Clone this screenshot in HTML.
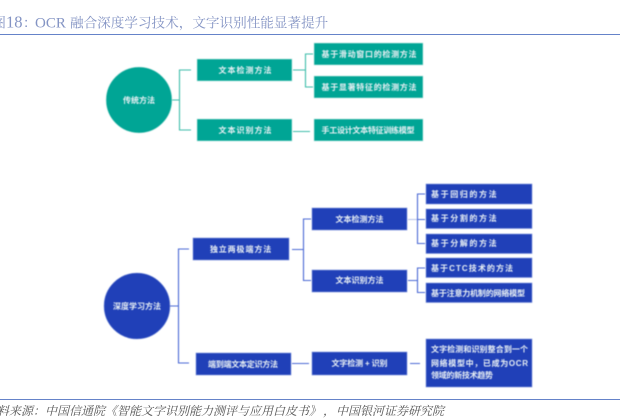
<!DOCTYPE html>
<html><head><meta charset="utf-8">
<style>
html,body{margin:0;padding:0;background:#fff}
body{width:620px;height:419px;overflow:hidden;position:relative}
svg{position:absolute;left:0;top:0}
.d{filter:blur(0.5px)}
.s{font-family:"Liberation Sans","Noto Sans CJK SC",sans-serif;font-weight:700;font-size:8px;fill:#e9f0f4}
.m{text-anchor:middle}
.t{font-family:"Liberation Serif","Noto Serif CJK SC",serif;font-size:13.6px;fill:#8494c4}
.f{font-family:"Liberation Serif","Noto Serif CJK SC",serif;font-size:12px;font-style:italic;fill:#555;text-spacing-trim:space-all}
.tb rect{fill:#00a595;stroke:#bfe8e2;stroke-width:.6}
.bb rect{fill:#2040b8;stroke:#7f95dc;stroke-width:.6}
.tl{fill:none;stroke:#3dbdaa;stroke-width:1.1}
.bl{fill:none;stroke:#4a68d4;stroke-width:1.1}
</style></head>
<body>
<svg width="620" height="419" viewBox="0 0 620 419" xmlns="http://www.w3.org/2000/svg">
<g style="filter:blur(0.3px)">
<text class="t" x="-7.600" y="27.500">图</text>
<text class="t" x="6" y="27.500" style="font-size:16.500px">18</text>
<text class="t" x="23" y="27.500">：</text>
<text class="t" x="35" y="27.500" style="font-size:15px">OCR</text>
<text class="t" x="70" y="27.500">融合深度学习技术，文字识别性能显著提升</text>
<text class="f" x="-15" y="415">资料来源：中国信通院《智能文字识别能力测评与应用白皮书》</text>
<text class="f" x="323" y="415">，</text>
<text class="f" x="336" y="415">中国银河证券研究院</text>
</g>
<line x1="0" x2="620" y1="34.500" y2="34.500" stroke="#6583c9" stroke-width="1"/>
<line x1="0" x2="620" y1="399.500" y2="399.500" stroke="#6583c9" stroke-width="1"/>

<g class="d">
<!-- teal connectors -->
<path class="tl" d="M172 100H179.500M191 70H179.500V130H191M293 70H305.500M313 54H305.500V87H313M293 131.500H310"/>
<circle cx="139" cy="100" r="33" fill="#00a595" stroke="#bfe8e2" stroke-width=".6"/>
<g class="tb">
<rect x="197" y="59" width="95" height="22"/>
<rect x="197" y="119" width="95" height="22"/>
<rect x="314" y="43" width="109" height="22"/>
<rect x="314" y="76" width="109" height="22"/>
<rect x="314" y="119" width="109" height="22"/>
</g>
<text class="s m" x="139" y="103">传统方法</text>
<text class="s m" x="245.500" y="73" letter-spacing="1">文本检测方法</text>
<text class="s m" x="245.500" y="133" letter-spacing="1">文本识别方法</text>
<text class="s m" x="369" y="57" textLength="95">基于滑动窗口的检测方法</text>
<text class="s m" x="369" y="90" textLength="95">基于显著特征的检测方法</text>
<text class="s m" x="368" y="133" textLength="93">手工设计文本特征训练模型</text>

<!-- blue connectors -->
<path class="bl" d="M170 306H178.500M189 249H178.500V363H189M292 249.500H303.500M311 219H303.500V280.500H311M292 363.500H309M425 194H417.500V243.500H425M417.500 219.500H425M408 280.500H417.500M425 268H417.500V292.500H425M410 363.500H420"/>
<path d="M408 219.500H417" fill="none" stroke="#b5c2ea" stroke-width="1"/>
<circle cx="137" cy="306" r="33" fill="#2040b8" stroke="#7f95dc" stroke-width=".6"/>
<g class="bb">
<rect x="193" y="238" width="96" height="22"/>
<rect x="196" y="353" width="95" height="22"/>
<rect x="312" y="208" width="95" height="22"/>
<rect x="312" y="270" width="95" height="22"/>
<rect x="312" y="352" width="95" height="23"/>
<rect x="426" y="184" width="106" height="20"/>
<rect x="426" y="209" width="106" height="19.500"/>
<rect x="426" y="234" width="106" height="19.500"/>
<rect x="426" y="258" width="106" height="19.500"/>
<rect x="426" y="283" width="106" height="19.500"/>
<rect x="426" y="339" width="106" height="48"/>
</g>
<text class="s m" x="137" y="309">深度学习方法</text>
<text class="s m" x="241" y="252" letter-spacing=".9">独立两极端方法</text>
<text class="s m" x="243" y="367" textLength="70">端到端文本定识方法</text>
<text class="s m" x="359.500" y="222">文本检测方法</text>
<text class="s m" x="359.500" y="283">文本识别方法</text>
<text class="s m" x="359.500" y="366" textLength="56">文字检测 + 识别</text>
<text class="s" x="431" y="197" letter-spacing="1.600">基于回归的方法</text>
<text class="s" x="431" y="221" letter-spacing="1.600">基于分割的方法</text>
<text class="s" x="431" y="246" letter-spacing="1.600">基于分解的方法</text>
<text class="s" x="431" y="271" textLength="82">基于CTC技术的方法</text>
<text class="s" x="431" y="296" textLength="94">基于注意力机制的网络模型</text>
<text class="s" x="431" y="352" textLength="97">文字检测和识别整合到一个</text>
<text class="s" x="431" y="366" textLength="97">网络模型中，已成为OCR</text>
<text class="s" x="431" y="378" textLength="62">领域的新技术趋势</text>
</g>
</svg>
</body></html>
